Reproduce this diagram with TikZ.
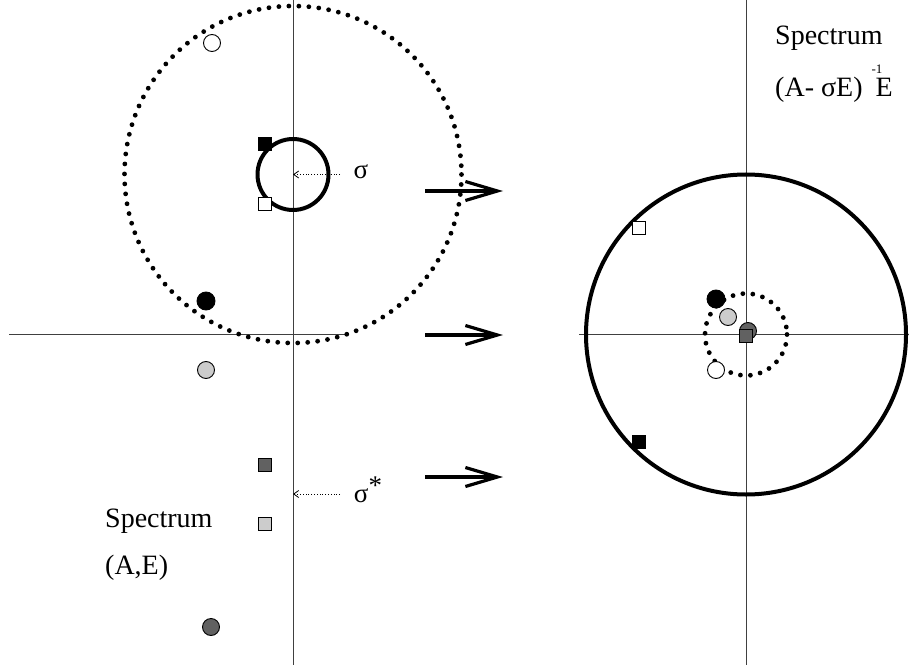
\documentclass[tikz,border=0pt]{standalone}
\usepackage{fontspec}
\setmainfont{Liberation Serif}
\usetikzlibrary{arrows.meta}
\definecolor{lightmk}{gray}{0.80}
\definecolor{darkmk}{gray}{0.38}
\definecolor{axisgray}{gray}{0.25}

\begin{document}
\begin{tikzpicture}[x=1pt,y=-1pt,
   mk/.style={draw,line width=0.9pt,inner sep=0pt},
   dotmk/.style={mk,circle,minimum size=17pt},
   sqmk/.style={mk,rectangle,minimum size=12.5pt},
   axis/.style={draw=axisgray,line width=1pt},
   dotring/.style={line width=4.8pt,line cap=round,dash pattern=on 0pt off 10pt},
   ring/.style={line width=4pt},
   map/.style={line width=3.2pt,-{Straight Barb[length=32pt,width=19pt,line width=3.2pt]}},
   shiftarr/.style={dotted,line width=0.8pt,-{Straight Barb[length=5pt,width=7pt,line width=0.8pt]}},
   lbl/.style={font=\fontsize{28}{32}\selectfont,inner sep=0pt}]
  \useasboundingbox (0,0) rectangle (909,671);
  % axes
  \coordinate (lt) at (293,0);   \coordinate (lb) at (293,665);
  \coordinate (ll) at (9,334);   \coordinate (lr) at (347,334);
  \coordinate (rt) at (746,0);   \coordinate (rb) at (746,665);
  \coordinate (rl) at (579,334); \coordinate (rr) at (909,334);
  \draw[axis] (lt) -- (lb);
  \draw[axis] (ll) -- (lr);
  \draw[axis] (rt) -- (rb);
  \draw[axis] (rl) -- (rr);
  % circles
  \coordinate (sig) at (293,174.5);
  \coordinate (org) at (746,334.5);
  \draw[dotring] (sig) circle[radius=168.5];
  \draw[ring] (sig) circle[radius=35.5];
  \draw[ring] (org) circle[radius=160];
  \draw[dotring] (org) circle[radius=41];
  % shifts
  \coordinate (sigtail) at (340,174.5);
  \coordinate (sigc) at (293,494);
  \coordinate (sigctail) at (340,494);
  \draw[shiftarr] (sigtail) -- (sig);
  \draw[shiftarr] (sigctail) -- (sigc);
  \node[lbl,font=\fontsize{27}{30}\selectfont] (siglbl) at (361,172) {σ};
  \node[lbl,font=\fontsize{27}{30}\selectfont] (sigclbl) at (368,490) {σ\raisebox{8pt}{*}};
  % maps
  \coordinate (m1a) at (425,191); \coordinate (m1b) at (503,191);
  \coordinate (m2a) at (425,335); \coordinate (m2b) at (503,335);
  \coordinate (m3a) at (425,477); \coordinate (m3b) at (503,477);
  \draw[map] (m1a) -- (m1b);
  \draw[map] (m2a) -- (m2b);
  \draw[map] (m3a) -- (m3b);
  % spectrum (A,E)
  \node[dotmk,fill=white] (p1) at (212,43) {};
  \node[sqmk,fill=black] (p2) at (265,144) {};
  \node[sqmk,fill=white] (p3) at (265,204) {};
  \node[dotmk,fill=black,minimum size=18pt] (p4) at (206,301) {};
  \node[dotmk,fill=lightmk] (p5) at (206,370) {};
  \node[sqmk,fill=darkmk] (p6) at (265,465) {};
  \node[sqmk,fill=lightmk] (p7) at (265,524) {};
  \node[dotmk,fill=darkmk] (p8) at (211,627) {};
  % shifted and inverted spectrum
  \node[sqmk,fill=white] (q3) at (639,228) {};
  \node[dotmk,fill=black,minimum size=18pt] (q4) at (716,299) {};
  \node[dotmk,fill=lightmk] (q5) at (728,317) {};
  \node[dotmk,fill=darkmk] (q8) at (748,331) {};
  \node[sqmk,fill=darkmk] (q6) at (746,336) {};
  \node[dotmk,fill=white] (q1) at (716,370) {};
  \node[sqmk,fill=black] (q2) at (639,442) {};
  % labels
  \node[lbl,anchor=base west] (specAE) at (105,527) {Spectrum};
  \node[lbl,anchor=base west] (pairAE) at (105,574) {(A,E)};
  \node[lbl,anchor=base west] (specB) at (775,45) {Spectrum};
  \node[lbl,anchor=base west] (shinv) at (775,97) {(A- σE)\hspace{6pt} E};
  \node[font=\fontsize{13}{15}\selectfont,inner sep=0pt] (inv) at (877,69) {-1};
\end{tikzpicture}
\end{document}
